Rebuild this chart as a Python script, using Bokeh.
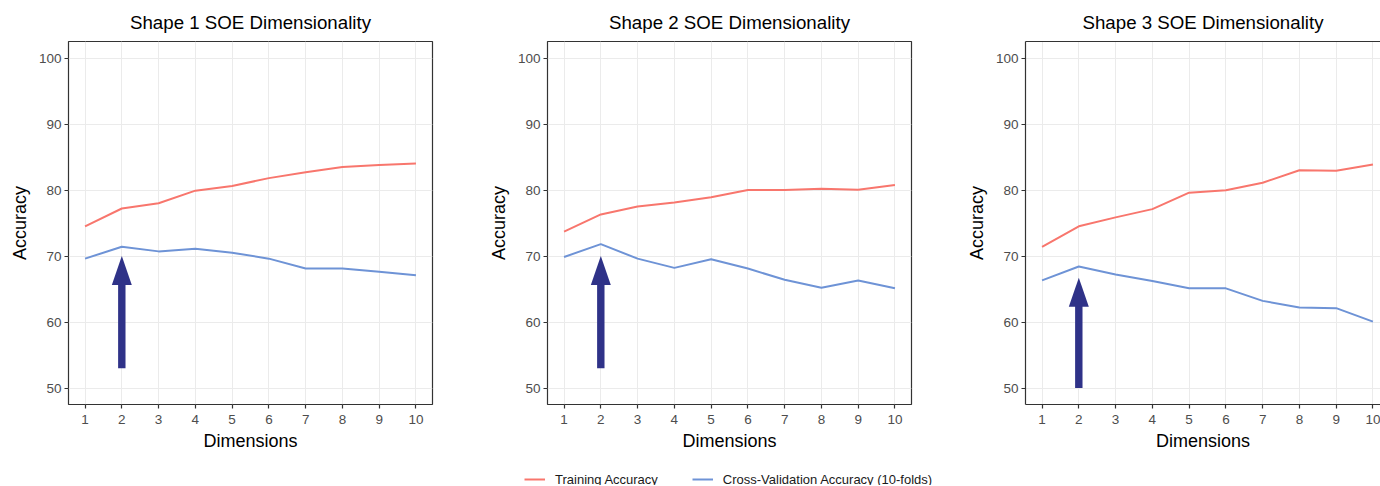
from bokeh.plotting import figure
from bokeh.layouts import row, column
from bokeh.models import Range1d, FixedTicker, LinearAxis, Legend, LegendItem
from bokeh.embed import file_html
from bokeh.resources import INLINE

# ---------------- data ----------------
dims = [1, 2, 3, 4, 5, 6, 7, 8, 9, 10]
titles = ["Shape 1 SOE Dimensionality", "Shape 2 SOE Dimensionality", "Shape 3 SOE Dimensionality"]
shape1_train = [74.5, 77.2, 78.0, 79.9, 80.6, 81.8, 82.7, 83.5, 83.8, 84.0]
shape1_cv = [69.6, 71.4, 70.7, 71.1, 70.5, 69.6, 68.1, 68.1, 67.6, 67.1]
shape2_train = [73.7, 76.3, 77.5, 78.1, 78.9, 80.0, 80.0, 80.2, 80.05, 80.75]
shape2_cv = [69.85, 71.8, 69.6, 68.2, 69.5, 68.1, 66.4, 65.2, 66.3, 65.1]
shape3_train = [71.4, 74.5, 75.85, 77.1, 79.6, 79.95, 81.1, 83.0, 82.9, 83.85]
shape3_cv = [66.3, 68.4, 67.2, 66.2, 65.1, 65.1, 63.2, 62.2, 62.1, 60.05]
arrow_x = [2, 2, 2]
arrow_tail = [53.0, 53.0, 50.0]
arrow_tip = [70.0, 70.0, 66.7]
y_ticks = [50, 60, 70, 80, 90, 100]
legend_labels = ["Training Accuracy", "Cross-Validation Accuracy (10-folds)"]

RED = "#F8766D"
BLUE = "#6E93D6"
NAVY = "#2F3288"
FONT = "Liberation Sans"
BORDER = "#333333"

train_sets = [shape1_train, shape2_train, shape3_train]
cv_sets = [shape1_cv, shape2_cv, shape3_cv]

FRAME_H = 363
TOP = 41
BOTTOM = 50
lefts = [68, 62, 62]
widths = [485, 478, 417]
frame_ws = [364, 364, 417 - 62]
x_ranges = [(0.55, 10.45), (0.55, 10.45), (0.55, 0.55 + (417 - 62) / (364 / 9.9))]

figs = []
for i in range(3):
    last = (i == 2)
    w = widths[i]
    frame_w = frame_ws[i]
    p = figure(width=w, height=TOP + FRAME_H + BOTTOM,
               x_range=Range1d(*x_ranges[i]), y_range=Range1d(47.5, 102.5),
               output_backend="svg", toolbar_location=None,
               min_border_left=lefts[i], min_border_right=(w - lefts[i] - frame_w),
               min_border_top=TOP, min_border_bottom=BOTTOM)
    p.title.text = titles[i]
    p.title.align = "center"
    p.title.text_font = FONT
    p.title.text_font_size = "18.7px"
    p.title.text_font_style = "normal"
    p.title.text_color = "#000000"
    p.title.standoff = 18

    for ax, ticks in ((p.xaxis, dims), (p.yaxis, y_ticks)):
        ax.ticker = FixedTicker(ticks=ticks)
        ax.major_tick_in = 0
        ax.major_tick_out = 4
        ax.minor_tick_line_color = None
        ax.major_tick_line_color = BORDER
        ax.major_tick_line_width = 1.2
        ax.major_label_text_font = FONT
        ax.major_label_text_font_size = "13.5px"
        ax.major_label_text_color = "#4D4D4D"
        ax.axis_label_text_font = FONT
        ax.axis_label_text_font_size = "18px"
        ax.axis_label_text_font_style = "normal"
        ax.axis_label_text_color = "#000000"
    p.xaxis.axis_label = "Dimensions"
    p.yaxis.axis_label = "Accuracy"
    p.xaxis.major_label_standoff = 6
    p.xaxis.axis_label_standoff = 4
    p.yaxis.major_label_standoff = 3
    p.yaxis.axis_label_standoff = 6

    p.xgrid.ticker = FixedTicker(ticks=dims)
    p.ygrid.ticker = FixedTicker(ticks=y_ticks)
    p.grid.grid_line_color = "#EBEBEB"
    p.grid.grid_line_width = 1

    if not last:
        p.outline_line_color = BORDER
        p.outline_line_width = 1.2
        p.xaxis.axis_line_color = None
        p.yaxis.axis_line_color = None
    else:
        p.outline_line_color = None
        p.xaxis.axis_line_color = BORDER
        p.yaxis.axis_line_color = BORDER
        p.xaxis.axis_line_width = 1.2
        p.yaxis.axis_line_width = 1.2
        top_axis = LinearAxis(ticker=FixedTicker(ticks=[]), major_label_text_font_size="0px",
                              major_tick_out=0, major_tick_in=0, minor_tick_out=0, minor_tick_in=0,
                              major_label_standoff=0, axis_line_color=BORDER, axis_line_width=1.2)
        p.add_layout(top_axis, "above")

    p.line(dims, train_sets[i], line_color=RED, line_width=2)
    p.line(dims, cv_sets[i], line_color=BLUE, line_width=2)

    # arrow (shaft + head) in data units derived from the pixel scale
    xr = x_ranges[i]
    px_x = frame_w / (xr[1] - xr[0])
    px_y = FRAME_H / 55.0
    head_half = 10.0 / px_x
    head_len = 29.0 / px_y
    shaft_half = 3.7 / px_x
    ax_ = arrow_x[i]
    tail = arrow_tail[i]
    tip = arrow_tip[i]
    p.quad(left=[ax_ - shaft_half], right=[ax_ + shaft_half], bottom=[tail], top=[tip - head_len + 0.3],
           fill_color=NAVY, line_color=None)
    p.patch([ax_ - head_half, ax_ + head_half, ax_], [tip - head_len, tip - head_len, tip],
            fill_color=NAVY, line_color=None)
    figs.append(p)

# legend strip
leg = figure(width=1380, height=31, x_range=Range1d(0, 1), y_range=Range1d(0, 1),
             output_backend="svg", toolbar_location=None,
             min_border_left=0, min_border_right=0, min_border_top=0, min_border_bottom=0)
leg.axis.visible = False
leg.grid.visible = False
leg.outline_line_color = None
r1 = leg.line([-10, -9], [-10, -9], line_color=RED, line_width=2)
r2 = leg.line([-10, -9], [-10, -9], line_color=BLUE, line_width=2)
legend = Legend(items=[LegendItem(label=legend_labels[0], renderers=[r1]),
                       LegendItem(label=legend_labels[1], renderers=[r2])],
                orientation="horizontal", location=(524, -3),
                padding=0, margin=0, spacing=34, label_standoff=10,
                glyph_width=21, glyph_height=18, label_height=18,
                label_text_font=FONT, label_text_font_size="13px", label_text_color="#1A1A1A",
                border_line_color=None, background_fill_alpha=0)
leg.add_layout(legend, "center")

layout = column(row(*figs), leg)
open("out.html", "w").write(file_html(layout, INLINE))
